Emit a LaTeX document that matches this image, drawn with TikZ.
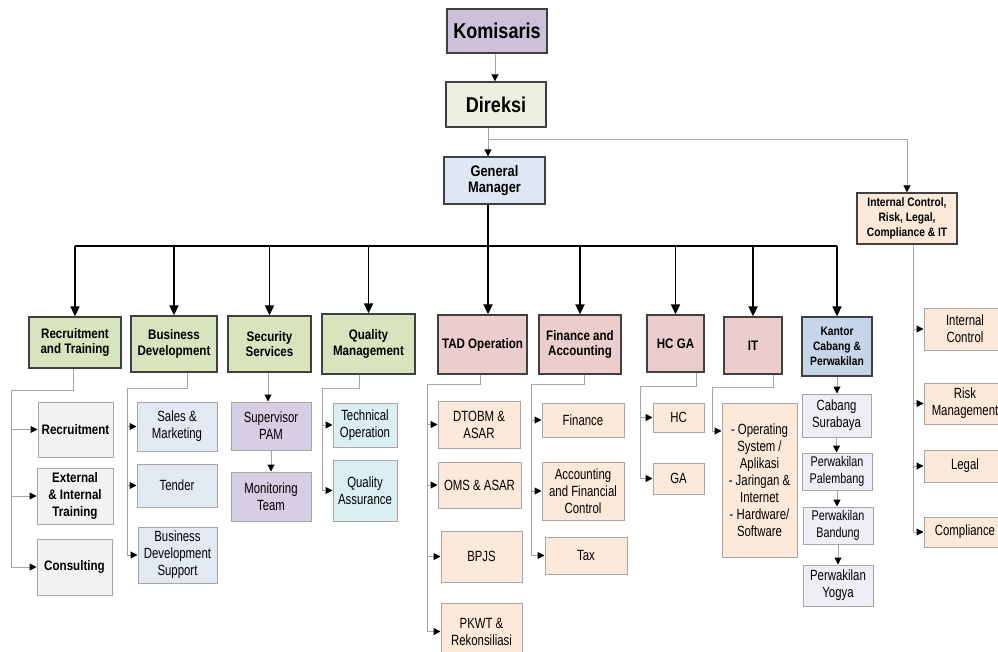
\documentclass[tikz,border=0pt]{standalone}
\usepackage{fontspec}
\setmainfont{Liberation Sans}[UprightFeatures={FakeStretch=0.77}, BoldFeatures={FakeStretch=0.84}]
\usetikzlibrary{arrows.meta}
\definecolor{komfill}{HTML}{CCC0DA}
\definecolor{dirfill}{HTML}{EBF1DE}
\definecolor{gmfill}{HTML}{DFE7F2}
\definecolor{peach}{HTML}{FDE9D9}
\definecolor{greenh}{HTML}{D7E4BD}
\definecolor{pinkh}{HTML}{ECCDCD}
\definecolor{blueh}{HTML}{C6D5E8}
\definecolor{grayc}{HTML}{F2F2F2}
\definecolor{bluec}{HTML}{E3E9F3}
\definecolor{purplec}{HTML}{D6CEE2}
\definecolor{cyanc}{HTML}{DAEEF3}
\definecolor{lavc}{HTML}{EFEEF5}
\definecolor{linegray}{HTML}{A6A6A6}
\newcommand\orgbox[6]{\node[#1, minimum width=#4pt, minimum height=#5pt] (#2) at (#3) {#6};}
\begin{document}
\begin{tikzpicture}[x=1pt,y=-1pt,
  base/.style={rectangle, inner sep=1pt, align=center},
  topbox/.style={base, draw=black!75, line width=1.3pt, font=\bfseries\fontsize{21.5}{25}\selectfont},
  hdr/.style={base, draw=black!75, line width=1.3pt, font=\bfseries\fontsize{13.8}{15.8}\selectfont},
  hdrs/.style={base, draw=black!75, line width=1.3pt, font=\bfseries\fontsize{12.2}{14.8}\selectfont},
  child/.style={base, draw=black!35, line width=1pt, font=\fontsize{14.8}{17}\selectfont},
  bchild/.style={child, font=\bfseries\fontsize{13.8}{17}\selectfont},
  schild/.style={child, font=\fontsize{14}{16.7}\selectfont},
  sub/.style={draw=linegray, line width=1pt, -{Triangle[length=7pt,width=7pt,color=black]}},
  busline/.style={draw=black, line width=1.8pt},
  busarrow/.style={busline, -{Triangle[length=10pt,width=9pt]}}
]
\useasboundingbox (0,0) rectangle (998,652);
\clip (0,0) rectangle (998,652);

% top
\orgbox{topbox, fill=komfill}{kom}{497,31}{100}{44}{Komisaris}
\orgbox{topbox, fill=dirfill}{dir}{496,104.5}{100}{45}{Direksi}
\orgbox{hdr, fill=gmfill, font=\bfseries\fontsize{15.3}{15.8}\selectfont}{gm}{494.5,180.5}{101}{47}{General\\Manager}
\orgbox{hdrs, fill=peach}{ic}{907,218.5}{100}{51}{Internal Control,\\Risk, Legal,\\Compliance \& IT}

% headers
\orgbox{hdr, fill=greenh}{rt}{75,342.5}{92}{51}{Recruitment\\and Training}
\orgbox{hdr, fill=greenh}{bd}{174,344}{86}{56}{Business\\Development}
\orgbox{hdr, fill=greenh}{ss}{269.5,344}{83}{56}{Security\\Services}
\orgbox{hdr, fill=greenh}{qm}{368.5,344}{93}{60}{Quality\\Management}
\orgbox{hdr, fill=pinkh}{tad}{482.5,344.5}{89}{59}{TAD Operation}
\orgbox{hdr, fill=pinkh}{fa}{580,344.5}{82}{59}{Finance and\\Accounting}
\orgbox{hdr, fill=pinkh}{hcga}{675.5,343.5}{57}{57}{HC GA}
\orgbox{hdr, fill=pinkh}{it}{753,345.5}{58}{57}{IT}
\orgbox{hdrs, fill=blueh}{kc}{837,346.5}{70}{59}{Kantor\\Cabang \&\\Perwakilan}

% children
\orgbox{bchild, fill=grayc}{rec}{75.5,429.5}{75}{55}{Recruitment}
\orgbox{bchild, fill=grayc}{eit}{75,496}{76}{56}{External\\\& Internal\\Training}
\orgbox{bchild, fill=grayc}{cons}{74.5,567}{75}{56}{Consulting}
\orgbox{child, fill=bluec}{sm}{177,426.5}{80}{49}{Sales \&\\Marketing}
\orgbox{child, fill=bluec}{tend}{177,485.5}{80}{43}{Tender}
\orgbox{child, fill=bluec}{bds}{177.5,555}{79}{56}{Business\\Development\\Support}
\orgbox{child, fill=purplec}{spam}{271,426}{80}{48}{Supervisor\\PAM}
\orgbox{child, fill=purplec}{mt}{271,496.5}{80}{49}{Monitoring\\Team}
\orgbox{child, fill=cyanc}{techop}{365,425}{64}{44}{Technical\\Operation}
\orgbox{child, fill=cyanc}{qa}{365,490.5}{64}{61}{Quality\\Assurance}
\orgbox{child, fill=peach}{dto}{479,424.5}{82}{47}{DTOBM \&\\ASAR}
\orgbox{child, fill=peach}{oms}{479.5,485}{83}{46}{OMS \& ASAR}
\orgbox{child, fill=peach}{bpjs}{481.5,556.5}{81}{51}{BPJS}
\orgbox{child, fill=peach}{pkwt}{481.5,631.5}{81}{57}{PKWT \&\\Rekonsiliasi}
\orgbox{child, fill=peach}{fin}{583,420}{82}{34}{Finance}
\orgbox{child, fill=peach}{afc}{583,491}{82}{58}{Accounting\\and Financial\\Control}
\orgbox{child, fill=peach}{tax}{586,555.5}{82}{37}{Tax}
\orgbox{child, fill=peach}{hc}{678.5,417.5}{51}{29}{HC}
\orgbox{child, fill=peach}{ga}{678.5,478.5}{51}{31}{GA}
\orgbox{child, fill=peach}{itl}{759.5,480}{75}{154}{- Operating\\System /\\Aplikasi\\- Jaringan \&\\Internet\\- Hardware/\\Software}
\orgbox{child, fill=lavc}{cs}{836.5,415.5}{69}{43}{Cabang\\Surabaya}
\orgbox{schild, fill=lavc}{pp}{837,471.5}{70}{37}{Perwakilan\\Palembang}
\orgbox{schild, fill=lavc}{pb}{838,525.5}{70}{37}{Perwakilan\\Bandung}
\orgbox{child, fill=lavc}{py}{838,585.5}{70}{41}{Perwakilan\\Yogya}
\orgbox{child, fill=peach}{icc}{965,329}{82}{42}{Internal\\Control}
\orgbox{child, fill=peach}{rm}{965,403.5}{82}{41}{Risk\\Management}
\orgbox{child, fill=peach}{leg}{965,466}{82}{32}{Legal}
\orgbox{child, fill=peach}{comp}{965,532}{82}{30}{Compliance}

% top connectors
\draw[sub] ([xshift=-2pt]kom.south) -- ([xshift=-2pt]kom.south |- dir.north);
\coordinate (dj) at (488,140);
\draw[sub] ([xshift=-8pt]dir.south) -- ([xshift=-8pt]dir.south |- gm.north);
\draw[sub] (dj) -| (ic.north);

% bus
\coordinate (bus) at (0,246);
\draw[busline] ([xshift=-6.5pt]gm.south) -- ([xshift=-6.5pt]gm.south |- bus);
\draw[busline] (rt.north |- bus) -- (kc.north |- bus);
\foreach \n in {rt,bd,ss,qm,fa,hcga,it,kc}
  \draw[busarrow] (\n.north |- bus) -- (\n.north);
\draw[busarrow] ([xshift=5.5pt]tad.north |- bus) -- ([xshift=5.5pt]tad.north);

% recruitment & training
\coordinate (rtv) at (11,390);
\draw[sub] ([xshift=-2pt]rt.south) |- (rtv) |- (cons.west);
\draw[sub] (rtv |- rec.west) -- (rec.west);
\draw[sub] (rtv |- eit.west) -- (eit.west);
% business development
\coordinate (bdv) at (127,388);
\draw[sub] ([xshift=13pt]bd.south) |- (bdv) |- (bds.west);
\draw[sub] (bdv |- sm.west) -- (sm.west);
\draw[sub] (bdv |- tend.west) -- (tend.west);
% security
\draw[sub] ([xshift=-1.5pt]ss.south) -- ([xshift=-1.5pt]ss.south |- spam.north);
\draw[sub] (spam.south) -- (mt.north);
% quality
\coordinate (qmv) at (322,388);
\draw[sub] ([xshift=-9.5pt]qm.south) |- (qmv) |- (qa.west);
\draw[sub] (qmv |- techop.west) -- (techop.west);
% TAD
\coordinate (tadv) at (427,384);
\draw[sub] ([xshift=-2.5pt]tad.south) |- (tadv) |- (pkwt.west);
\draw[sub] (tadv |- dto.west) -- (dto.west);
\draw[sub] (tadv |- oms.west) -- (oms.west);
\draw[sub] (tadv |- bpjs.west) -- (bpjs.west);
% finance
\coordinate (fav) at (531,384);
\draw[sub] ([xshift=4pt]fa.south) |- (fav) |- (tax.west);
\draw[sub] (fav |- fin.west) -- (fin.west);
\draw[sub] (fav |- afc.west) -- (afc.west);
% HC GA
\coordinate (hgv) at (640,386);
\draw[sub] ([xshift=20.5pt]hcga.south) |- (hgv) |- (ga.west);
\draw[sub] (hgv |- hc.west) -- (hc.west);
% IT
\coordinate (itv) at (712,387);
\coordinate (itt) at (712,431);
\draw[sub] ([xshift=20pt]it.south) |- (itv) |- (itl.west |- itt);
% Kantor
\draw[sub] (kc.south) -- (kc.south |- cs.north);
\draw[sub] (cs.south) -- (cs.south |- pp.north);
\draw[sub] (pp.south) -- (pp.south |- pb.north);
\draw[sub] (pb.south) -- (pb.south |- py.north);
% internal control
\coordinate (icv) at ([xshift=6pt]ic.south);
\draw[sub] (icv) |- (comp.west);
\draw[sub] (icv |- icc.west) -- (icc.west);
\draw[sub] (icv |- rm.west) -- (rm.west);
\draw[sub] (icv |- leg.west) -- (leg.west);
\end{tikzpicture}
\end{document}
